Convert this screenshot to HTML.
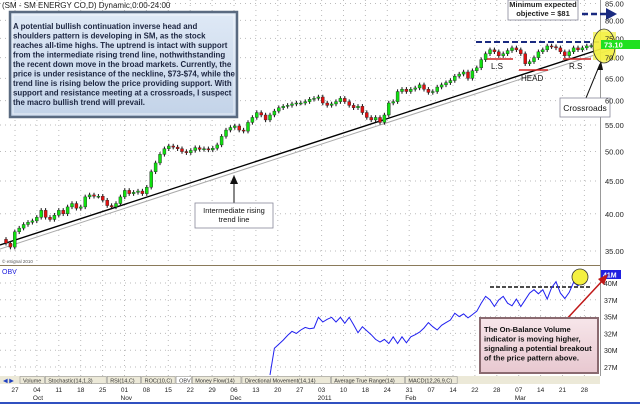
<!DOCTYPE html>
<html><head><meta charset="utf-8"><style>
body{margin:0;background:#fff;}
svg text{font-family:"Liberation Sans",Arial,sans-serif;}
</style></head><body>
<svg id="c" width="640" height="404" viewBox="0 0 640 404" xmlns="http://www.w3.org/2000/svg">
<defs>
<linearGradient id="bg1" x1="0" y1="0" x2="0" y2="1"><stop offset="0" stop-color="#dfe9f6"/><stop offset="1" stop-color="#c3d3e8"/></linearGradient>
<linearGradient id="bg2" x1="0" y1="0" x2="0" y2="1"><stop offset="0" stop-color="#f7e6ea"/><stop offset="1" stop-color="#e8c8d0"/></linearGradient>
</defs>
<rect x="0" y="0" width="640" height="404" fill="#fff"/>
<g id="grid"></g>
<line x1="0" y1="265.5" x2="600" y2="265.5" stroke="#8a7a5a" stroke-width="1"/>
<line x1="600.5" y1="0" x2="600.5" y2="376" stroke="#999" stroke-width="1"/>
<text x="2" y="8" font-size="8" fill="#222">(SM - SM ENERGY CO,D) Dynamic,0:00-24:00</text>
<text x="2" y="263" font-size="4.5" fill="#555">© eSignal 2010</text>
<!-- trend lines -->
<line x1="0" y1="249" x2="613" y2="49" stroke="#aaa" stroke-width="1"/>
<line x1="0" y1="245" x2="613" y2="45" stroke="#000" stroke-width="1.4"/>
<g id="candles"></g>
<!-- pattern marks -->
<line x1="476" y1="42" x2="606" y2="42" stroke="#1a2a80" stroke-width="2" stroke-dasharray="6,3"/>
<line x1="487" y1="59" x2="513" y2="59" stroke="#d02020" stroke-width="1.5"/>
<line x1="519" y1="70" x2="548" y2="70" stroke="#d02020" stroke-width="1.5"/>
<line x1="563" y1="59" x2="591" y2="59" stroke="#d02020" stroke-width="1.5"/>
<text x="491" y="69" font-size="8" fill="#111">L.S</text>
<text x="521" y="81" font-size="8" fill="#111">HEAD</text>
<text x="569" y="69" font-size="8" fill="#111">R.S</text>
<rect x="593" y="32" width="23" height="28" fill="#f0f040" opacity="0.7"/>
<ellipse cx="604" cy="46" rx="11" ry="17" fill="#f4f040" fill-opacity="0.75" stroke="#333" stroke-width="0.8"/>
<!-- objective box -->
<rect x="508" y="0" width="70" height="20" fill="#fff" stroke="#889" stroke-width="0.8"/>
<text x="543" y="7" font-size="7.5" font-weight="bold" fill="#222" text-anchor="middle">Minimum expected</text>
<text x="543" y="16" font-size="7.5" font-weight="bold" fill="#222" text-anchor="middle">objective = $81</text>
<line x1="582" y1="14" x2="608" y2="14" stroke="#1a2a80" stroke-width="2.5" stroke-dasharray="6,3"/>
<polygon points="606,8 617,14 606,20" fill="#1a2a80"/>
<!-- crossroads -->
<line x1="586" y1="98" x2="600" y2="64" stroke="#111" stroke-width="1"/>
<polygon points="601,61 597,70 603,70" fill="#111"/>
<rect x="560" y="98" width="50" height="19" fill="#fff" stroke="#889" stroke-width="0.8"/>
<text x="585" y="111" font-size="8.5" fill="#111" text-anchor="middle">Crossroads</text>
<!-- trend line annotation -->
<line x1="234" y1="203" x2="234" y2="180" stroke="#111" stroke-width="1"/>
<polygon points="234,175 230,184 238,184" fill="#111"/>
<rect x="195" y="203" width="78" height="25" fill="#fff" stroke="#889" stroke-width="0.8"/>
<text x="234" y="213" font-size="7.5" fill="#111" text-anchor="middle">Intermediate rising</text>
<text x="234" y="222" font-size="7.5" fill="#111" text-anchor="middle">trend line</text>
<!-- main text box -->
<rect x="10" y="12" width="227" height="105" fill="url(#bg1)" stroke="#5a6a80" stroke-width="2.5"/>
<rect x="13" y="15" width="221" height="99" fill="none" stroke="#fff" stroke-opacity="0.6" stroke-width="1"/>
<g font-size="7.9" font-weight="bold" fill="#1c2540">
<text x="13" y="29">A potential bullish continuation inverse head and</text>
<text x="13" y="38.5">shoulders pattern is developing in SM, as the stock</text>
<text x="13" y="48">reaches all-time highs. The uptrend is intact with support</text>
<text x="13" y="57.5">from the intermediate rising trend line, nothwithstanding</text>
<text x="13" y="67">the recent down move in the broad markets. Currently, the</text>
<text x="13" y="76.5">price is under resistance of the neckline, $73-$74, while the</text>
<text x="13" y="86">trend line is rising below the price providing support. With</text>
<text x="13" y="95.5">support and resistance meeting at a crossroads, I suspect</text>
<text x="13" y="105">the macro bullish trend will prevail.</text>
</g>
<g id="paxis"></g>
<rect x="601" y="40" width="39" height="9" fill="#20e020"/>
<text x="604" y="47.5" font-size="7.5" font-weight="bold" fill="#fff">73.10</text>
<!-- OBV panel -->
<text x="2" y="274" font-size="7" fill="#2020e0">OBV</text>
<line x1="490" y1="287" x2="590" y2="287" stroke="#111" stroke-width="1.5" stroke-dasharray="4,2"/>
<path id="obvline" fill="none" stroke="#2020f0" stroke-width="1"/>
<g id="oaxis"></g>
<rect x="601" y="270" width="20" height="9" fill="#2020e0"/>
<text x="603" y="277.5" font-size="7" font-weight="bold" fill="#fff">41M</text>
<circle cx="580" cy="277" r="8" fill="#f4f040" stroke="#333" stroke-width="0.8"/>
<line x1="563" y1="323" x2="604" y2="279" stroke="#c01818" stroke-width="1.5"/>
<polygon points="608,274 598,279 604,285" fill="#c01818"/>
<rect x="480" y="318" width="118" height="55" fill="url(#bg2)" stroke="#8a6a70" stroke-width="2"/>
<g font-size="7.6" font-weight="bold" fill="#111">
<text x="484" y="332">The On-Balance Volume</text>
<text x="484" y="341.5">indicator is moving higher,</text>
<text x="484" y="351">signaling a potential breakout</text>
<text x="484" y="360.5">of the price pattern above.</text>
</g>
<!-- tabs -->
<rect x="0" y="376" width="600" height="8" fill="#ece9d8"/>
<g font-size="5.5" fill="#333" id="tabs"></g>
<!-- date axis -->
<g id="daxis"></g>
<line x1="0" y1="403" x2="640" y2="403" stroke="#3050c0" stroke-width="2"/>
</svg>
<script>
const closes=[36.0,35.5,37.5,38.0,38.5, 38.8,39.0,39.5,40.5,39.5, 39.2,39.8,40.5,40.0,41.0, 41.5,40.8,41.0,42.5,42.8,
42.6,42.6,42.0,41.2,41.0, 41.5,42.5,43.5,43.0,43.2, 43.4,43.0,44.0,46.5,48.0, 49.5,50.5,51.0,50.8,50.5,
50.0,49.8,50.2,50.7,50.4, 50.5,50.3,50.6,51.2,52.8, 54.0,54.5,54.8,54.0,53.8, 55.5,56.5,57.5,57.0,56.0,
57.0,57.8,58.5,58.8,59.0, 59.3,59.5,59.5,59.8,60.3, 60.5,60.8,59.5,59.0,59.3, 59.8,60.5,59.8,59.0,58.5,
58.8,57.5,56.5,56.0,56.5, 55.5,57.0,59.5,59.8,62.0, 62.5,62.0,62.5,62.8,63.5, 62.5,61.8,62.0,63.0,63.5,
64.0,64.5,65.5,66.0,66.5, 65.0,66.8,67.5,69.5,71.0, 72.0,71.5,70.5,71.0,71.8, 72.5,72.0,71.0,68.5,69.0,
70.0,71.5,72.0,73.0,72.8, 72.5,71.5,70.5,71.5,72.5, 72.0,72.5,73.0,73.1];
const priceTicks=[85,80,75,70,65,60,55,50,45,40,35];
const obvStart=60;
const obvValues=[25.9,30.3,30.9,31.5,32.2,32.8,32.5,33.0,33.4,33.2,33.3,34.9,34.2,34.6,34.9,34.2,34.9,34.0,34.9,33.8,
32.6,33.5,32.9,32.3,31.6,31.2,31.6,31.0,32.0,31.0,32.0,31.1,32.0,32.3,32.7,33.3,34.1,33.5,33.0,33.7,
34.1,34.5,35.5,35.0,35.4,34.8,35.3,35.8,37.0,38.0,37.5,36.5,37.5,38.0,37.0,36.6,37.6,36.5,37.5,38.5,
39.0,38.4,39.0,37.6,39.3,40.2,38.5,37.7,38.6,40.1,39.6,40.3,40.2];
const obvTicks=[40,37.5,35,32.5,30,27.5];
const obvTickLabels=["40M","37M","35M","32M","30M","27M"];
const dayLabels=["27","04","11","18","25","01","08","15","22","29","06","13","20","27","03","10","18","24","31","07","14","22","28","07","14","21","28"];
const monthLabels=[["Oct",1],["Nov",5],["Dec",10],["2011",14],["Feb",18],["Mar",23]];
const tabLabels=["Volume","Stochastic(14,1,3)","RSI(14,C)","ROC(10,C)","OBV","Money Flow(14)","Directional Movement(14,14)","Average True Range(14)","MACD(12,26,9,C)"];

const NS="http://www.w3.org/2000/svg";
function mk(t,a,p){const e=document.createElementNS(NS,t);for(const k in a)e.setAttribute(k,a[k]);p.appendChild(e);return e;}
const xDay=i=>6+i*4.4;
const yP=p=>1243-279*Math.log(p);
const yO=v=>283-(v-40)*6.72;
const xWeek=w=>15+w*21.9;

const grid=document.getElementById('grid');
priceTicks.forEach(p=>{const l=mk('line',{x1:0,x2:600,y1:yP(p),y2:yP(p),stroke:'#bbb','stroke-dasharray':'1,4'},grid);
});
obvTicks.forEach(v=>{const l=mk('line',{x1:0,x2:600,y1:yO(v),y2:yO(v),stroke:'#bbb','stroke-dasharray':'1,4'},grid);
});
dayLabels.forEach((d,w)=>{const l=mk('line',{x1:xWeek(w),x2:xWeek(w),y1:0,y2:376,stroke:'#bbb','stroke-dasharray':'1,4'},grid);
});

const cg=document.getElementById('candles');
closes.forEach((c,i)=>{
 const o=i?closes[i-1]:c+0.5;const up=c>=o;const x=xDay(i);
 const hi=Math.max(o,c)*1.008,lo=Math.min(o,c)*0.992;
 const w=mk('line',{x1:x,x2:x,y1:yP(hi),y2:yP(lo),stroke:'#111','stroke-width':1},cg);
 
 const yt=yP(Math.max(o,c)),yb=yP(Math.min(o,c));
 const b=mk('rect',{x:x-1.5,y:yt,width:3,height:Math.max(1,yb-yt),fill:up?'#10e010':'#e01010',stroke:'#222','stroke-width':0.4},cg);
 
});

const pa=document.getElementById('paxis');
priceTicks.forEach(p=>{const t=mk('text',{x:605,y:yP(p)+3,'font-size':7.5,fill:'#222'},pa);t.textContent=p.toFixed(2);
});

let d='';obvValues.forEach((v,i)=>{d+=(i?'L':'M')+xDay(obvStart+i).toFixed(1)+','+Math.min(375,yO(v)).toFixed(1);});
document.getElementById('obvline').setAttribute('d',d);
const oa=document.getElementById('oaxis');
obvTicks.forEach((v,i)=>{const t=mk('text',{x:604,y:yO(v)+3,'font-size':7,fill:'#222'},oa);t.textContent=obvTickLabels[i];
});

const tb=document.getElementById('tabs');
let tx=20;
const nav=mk('text',{x:3,y:382.5,'font-size':6,fill:'#2040c0'},tb);nav.textContent='◀ ▶';

tabLabels.forEach(s=>{const w=s.length*3.05+6;
 const r=mk('rect',{x:tx,y:376.5,width:w,height:7,fill:s==='OBV'?'#fff':'#ece9d8',stroke:'#888','stroke-width':0.5},tb);
 
 const t=mk('text',{x:tx+3,y:382.5},tb);t.textContent=s;
 
 tx+=w+1;});

const da=document.getElementById('daxis');
dayLabels.forEach((s,w)=>{const t=mk('text',{x:xWeek(w),y:392,'font-size':6.5,fill:'#222','text-anchor':'middle'},da);t.textContent=s;
});
monthLabels.forEach(([s,w])=>{const t=mk('text',{x:xWeek(w)-4,y:400,'font-size':6.5,fill:'#222'},da);t.textContent=s;
});
</script>
</body></html>
